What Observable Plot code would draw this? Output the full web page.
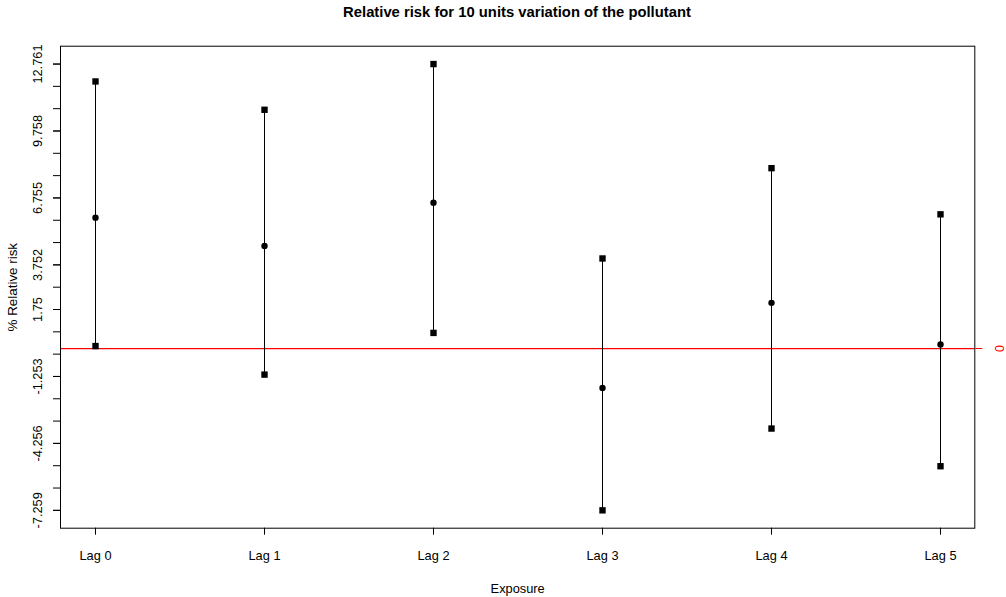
<!DOCTYPE html>
<html>
<head>
<meta charset="utf-8">
<script src="https://cdn.jsdelivr.net/npm/d3@7"></script>
<script src="https://cdn.jsdelivr.net/npm/@observablehq/plot@0.6"></script>
<style>
  body { margin: 0; background: #fff; font-family: "Liberation Sans", Arial, sans-serif; }
  #wrap { position: relative; width: 1006px; height: 597px; }
  #title { position: absolute; left: 517px; top: 4px; transform: translateX(-50%); font-weight: bold; font-size: 14.8px; line-height: 17px; white-space: nowrap; color: #000; }
  #chart { position: absolute; left: 0; top: 28px; }
</style>
</head>
<body>
<div id="wrap">
  <div id="title">Relative risk for 10 units variation of the pollutant</div>
  <div id="chart"></div>
</div>
<script>
const lags = ["Lag 0", "Lag 1", "Lag 2", "Lag 3", "Lag 4", "Lag 5"];
const estimate = [5.87, 4.60, 6.54, -1.77, 2.05, 0.18];
const lower = [0.11, -1.17, 0.70, -7.259, -3.59, -5.28];
const upper = [11.98, 10.71, 12.761, 4.04, 8.09, 6.02];
const yTicks = [12.761, 11.76, 10.759, 9.758, 8.757, 7.756, 6.755, 5.754, 4.753, 3.752, 2.751, 1.75, 0.749, -0.252, -1.253, -2.254, -3.255, -4.256, -5.257, -6.258, -7.259];
const yLabels = [12.761, 9.758, 6.755, 3.752, 1.75, -1.253, -4.256, -7.259];
const refLine = [0];

const rows = lags.map((lag, i) => ({lag, est: estimate[i], lo: lower[i], hi: upper[i]}));
const lo = d3.min(lower), hi = d3.max(upper), pad = 0.04 * (hi - lo);

const font = "Liberation Sans, Arial, sans-serif";
const chart = Plot.plot({
  width: 1006,
  height: 569,
  marginLeft: 60,
  marginRight: 31.7,
  marginTop: 17.7,
  marginBottom: 69.3,
  style: {fontFamily: font, fontSize: "12.5px", background: "#fff", color: "#000"},
  x: {type: "point", domain: lags, padding: 0.2},
  y: {domain: [lo - pad, hi + pad]},
  marks: [
    Plot.ruleY(refLine, {stroke: "red", strokeWidth: 1.2}),
    Plot.ruleX(rows, {x: "lag", y1: "lo", y2: "hi", stroke: "#000", strokeWidth: 1}),
    Plot.dot(rows, {x: "lag", y: "hi", symbol: "square", r: 3.6, fill: "#000", stroke: "none"}),
    Plot.dot(rows, {x: "lag", y: "lo", symbol: "square", r: 3.6, fill: "#000", stroke: "none"}),
    Plot.dot(rows, {x: "lag", y: "est", symbol: "circle", r: 3.2, fill: "#000", stroke: "none"}),
    Plot.frame({stroke: "#000"}),
    Plot.axisX({tickSize: 7, tickPadding: 16, fontSize: 12.8, label: null}),
    Plot.axisY({ticks: yTicks, tickSize: 7, tickFormat: () => "", label: null}),
    Plot.axisY({ticks: yLabels, tickSize: 7, tickRotate: -90, lineAnchor: "middle", textAnchor: "middle", tickPadding: 16, fontSize: 12.8, tickFormat: d => String(d), label: null}),
    Plot.axisY({anchor: "right", ticks: refLine, tickSize: 7, color: "red", tickFormat: () => "", label: null}),
    Plot.text(refLine, {y: d => d, text: d => String(d), frameAnchor: "right", dx: 24.7, rotate: 90, fill: "red", fontSize: 12.8, lineAnchor: "middle", textAnchor: "middle"}),
    Plot.text(["Exposure"], {text: d => d, frameAnchor: "bottom", dy: 60.3, fontSize: 12.8, lineAnchor: "middle"}),
    Plot.text(["% Relative risk"], {text: d => d, frameAnchor: "left", dx: -48, rotate: -90, fontSize: 13.4, lineAnchor: "middle", textAnchor: "middle"})
  ]
});
document.getElementById("chart").appendChild(chart);
</script>
</body>
</html>
